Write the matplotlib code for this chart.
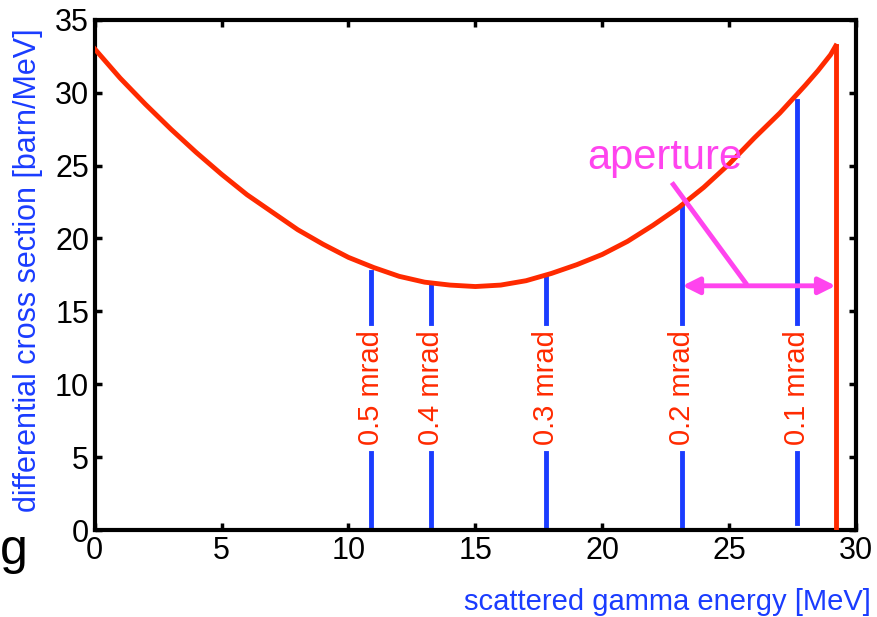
import matplotlib
matplotlib.use("Agg")
import matplotlib.pyplot as plt

plt.rcParams['font.family'] = ['Liberation Sans', 'DejaVu Sans']

# cross section curve
energy = [0, 1, 2, 3, 4, 5, 6, 7, 8, 9, 10, 11, 12, 13, 14, 15, 16, 17, 18, 19, 20,
          21, 22, 23, 24, 25, 26, 27, 28, 28.5, 29, 29.2]
sigma = [33.0, 31.0, 29.2, 27.5, 25.9, 24.4, 23.0, 21.8, 20.6, 19.6, 18.7, 18.0, 17.4, 17.0, 16.8,
         16.7, 16.8, 17.1, 17.6, 18.2, 18.9, 19.8, 20.9, 22.1, 23.5, 25.1, 26.9, 28.6, 30.5, 31.5,
         32.6, 33.2]

# angle markers
mrad_labels = ["0.5 mrad", "0.4 mrad", "0.3 mrad", "0.2 mrad", "0.1 mrad"]
mrad_x = [10.87, 13.24, 17.8, 23.16, 27.67]
mrad_top = [17.7, 16.9, 17.4, 22.3, 29.4]
mrad_bottom = [0, 0, 0, 0, 0.5]
edge_x = 29.2
edge_top = 33.2

red = '#ff2a00'
blue = '#1a3cff'
pink = '#ff44ee'

fig = plt.figure(figsize=(8.77, 6.17), dpi=100)
ax = fig.add_axes([0.108, 0.141, 0.868, 0.827])

ax.plot(energy, sigma, color=red, lw=3.5, zorder=3, solid_joinstyle='round')
ax.plot([edge_x, edge_x], [0, edge_top], color=red, lw=3.5, zorder=3)

gap_lo, gap_hi = 5.3, 14.2
for lab, x, top, bot in zip(mrad_labels, mrad_x, mrad_top, mrad_bottom):
    ax.plot([x, x], [gap_hi, top], color=blue, lw=3.5, zorder=2)
    ax.plot([x, x], [bot, gap_lo], color=blue, lw=3.5, zorder=2)
    ax.text(x, (gap_lo + gap_hi) / 2, lab, rotation=90, color=red, fontsize=21,
            ha='center', va='center')

# aperture annotation
ax.annotate('', xy=(mrad_x[3], 16.75), xytext=(edge_x, 16.75),
            arrowprops=dict(arrowstyle='<|-|>', color=pink, lw=3.5, mutation_scale=25,
                            shrinkA=0, shrinkB=0))
ax.plot([22.8, 25.65], [23.7, 16.95], color=pink, lw=3.5, zorder=4)
ax.text(22.45, 25.5, 'aperture', color=pink, fontsize=30, ha='center', va='center')

ax.set_xlim(0, 30)
ax.set_ylim(0, 35)
ax.set_xticks([0, 5, 10, 15, 20, 25, 30])
ax.set_yticks([0, 5, 10, 15, 20, 25, 30, 35])
ax.tick_params(direction='in', top=True, right=True, length=5, width=2.5, labelsize=22, pad=4)
for s in ax.spines.values():
    s.set_linewidth(3)

ax.set_ylabel('differential cross section [barn/MeV]', color=blue, fontsize=22)
ax.yaxis.set_label_coords(-0.068, 0.51)
fig.text(0.993, 0.002, 'scattered gamma energy [MeV]', color=blue, fontsize=21, ha='right', va='bottom')
fig.text(0.0, 0.07, 'g', color='black', fontsize=36, ha='left', va='bottom')

fig.savefig('out.png', dpi=100)
